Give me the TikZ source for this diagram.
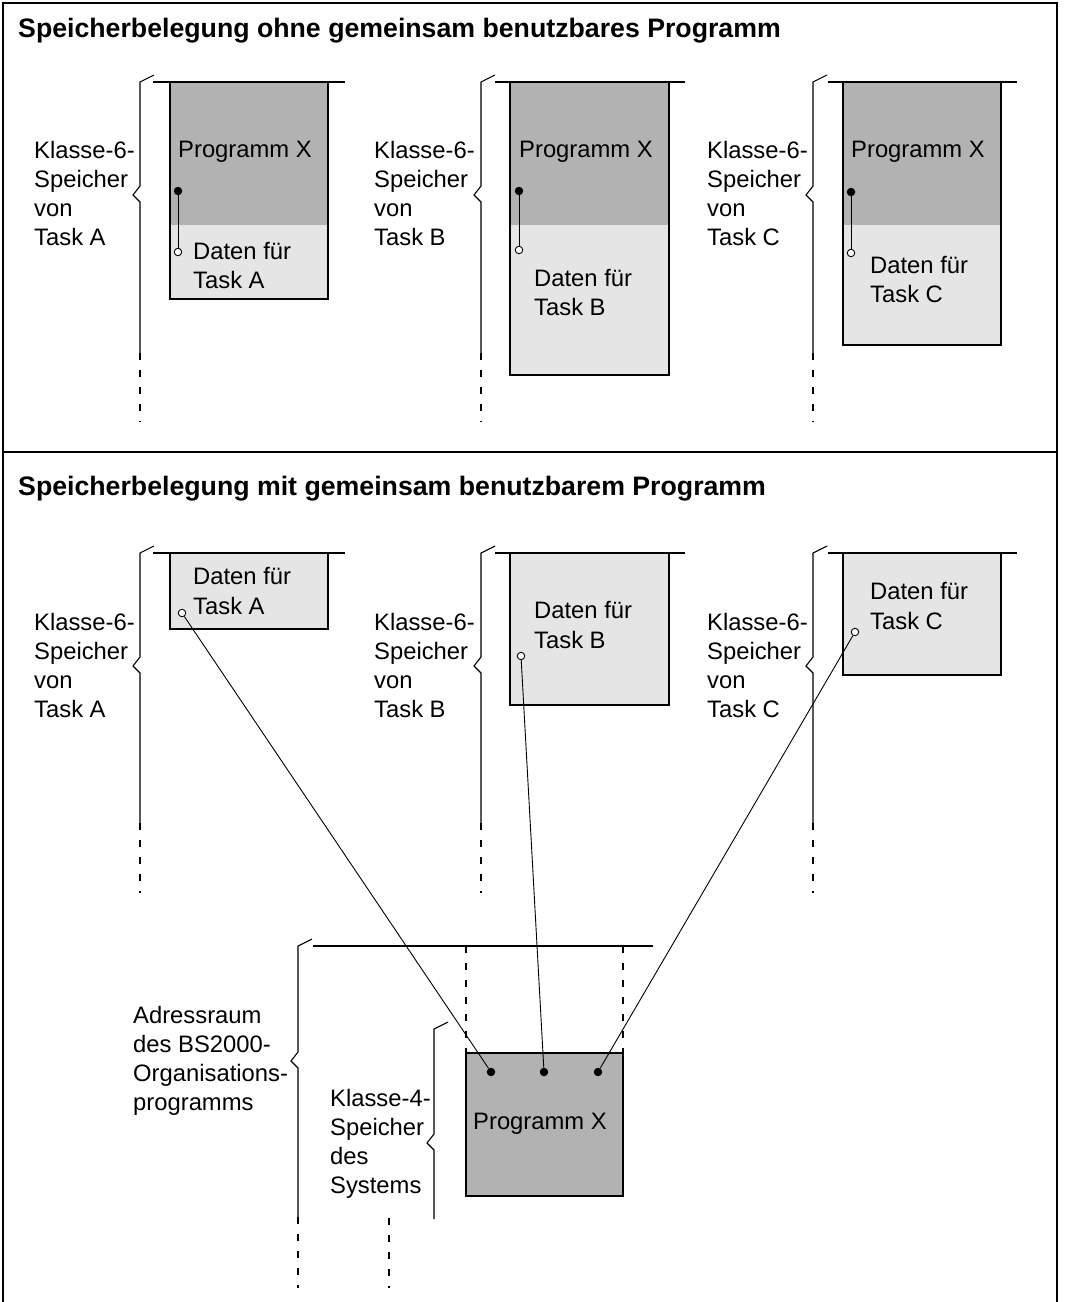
\documentclass[tikz,border=0pt]{standalone}
\usepackage{fontspec}
\setmainfont{Liberation Sans}
\definecolor{memdark}{gray}{0.70}
\definecolor{memlight}{gray}{0.90}

% memory brace: x, top, notch, end of solid part, end of dashed part
\newcommand\membrace[5]{%
  \draw[brace] (#1+14,#2-7) -- (#1,#2) -- (#1,#3-9) -- (#1-7,#3) -- (#1,#3+7) -- (#1,#4);
  \draw[dashcont] (#1,#4) -- (#1,#5);}

\begin{document}
\begin{tikzpicture}[x=1pt,y=-1pt,
  frame/.style={line width=1.2pt},
  edge/.style={line width=1.3pt},
  brace/.style={line width=1.1pt},
  dashcont/.style={line width=1.1pt, dash pattern=on 7pt off 10pt},
  link/.style={line width=0.9pt},
  lbl/.style={anchor=base west, inner sep=0pt, font=\fontsize{23.8}{29}\selectfont},
  ttl/.style={anchor=base west, inner sep=0pt, font=\bfseries\fontsize{26.7}{32}\selectfont},
  blackdot/.style={circle, fill=black, inner sep=0pt, minimum size=8.5pt},
  opendot/.style={circle, draw=black, fill=white, line width=0.9pt, inner sep=0pt, minimum size=7.5pt}]

\useasboundingbox (0,0) rectangle (1066,1302);

% outer frame and separator
\draw[frame] (3,1302) -- (3,3) -- (1057,3) -- (1057,1302);
\draw[frame] (3,452) -- (1057,452);

\node[ttl] (t1) at (18,37) {Speicherbelegung ohne gemeinsam benutzbares Programm};
\node[ttl] (t2) at (18,495) {Speicherbelegung mit gemeinsam benutzbarem Programm};

% ---------- upper part: every task has its own copy ----------
\foreach \x/\t in {34/A, 374/B, 707/C}{
  \foreach \s [count=\i] in {Klasse-6-, Speicher, von, Task \t}
    \node[lbl] (u\t\i) at (\x,158+29*\i-29) {\s};
}
\membrace{140}{82}{195}{353}{422}
\membrace{481}{82}{195}{353}{422}
\membrace{813}{82}{195}{353}{422}

% task A
\fill[memdark] (170,82) rectangle (328,225);
\fill[memlight] (170,225) rectangle (328,299);
\draw[edge] (153,82) -- (345,82);
\draw[edge] (170,82) -- (170,299) -- (328,299) -- (328,82);
% task B
\fill[memdark] (510,82) rectangle (669,225);
\fill[memlight] (510,225) rectangle (669,375);
\draw[edge] (495,82) -- (685,82);
\draw[edge] (510,82) -- (510,375) -- (669,375) -- (669,82);
% task C
\fill[memdark] (843,82) rectangle (1001,225);
\fill[memlight] (843,225) rectangle (1001,345);
\draw[edge] (828,82) -- (1017,82);
\draw[edge] (843,82) -- (843,345) -- (1001,345) -- (1001,82);

\node[lbl] (pxA) at (178,157) {Programm X};
\node[lbl] (pxB) at (519,157) {Programm X};
\node[lbl] (pxC) at (851,157) {Programm X};

\node[lbl] (dA1) at (193,259) {Daten für};
\node[lbl] (dA2) at (193,288) {Task A};
\node[lbl] (dB1) at (534,286) {Daten für};
\node[lbl] (dB2) at (534,315) {Task B};
\node[lbl] (dC1) at (870,273) {Daten für};
\node[lbl] (dC2) at (870,302) {Task C};

\node[blackdot] (ppA) at (178,191) {};
\node[opendot]  (poA) at (178,252) {};
\node[blackdot] (ppB) at (519,191) {};
\node[opendot]  (poB) at (519,250) {};
\node[blackdot] (ppC) at (851,192) {};
\node[opendot]  (poC) at (851,253) {};
\draw[link] (ppA) -- (poA);
\draw[link] (ppB) -- (poB);
\draw[link] (ppC) -- (poC);

% ---------- lower part: one shared copy in class-4 memory ----------
\foreach \x/\t in {34/A, 374/B, 707/C}{
  \foreach \s [count=\i] in {Klasse-6-, Speicher, von, Task \t}
    \node[lbl] (l\t\i) at (\x,630+29*\i-29) {\s};
}
\membrace{140}{553}{666}{823}{893}
\membrace{481}{553}{666}{823}{893}
\membrace{813}{553}{666}{823}{893}

\fill[memlight] (170,553) rectangle (328,629);
\draw[edge] (153,553) -- (345,553);
\draw[edge] (170,553) -- (170,629) -- (328,629) -- (328,553);
\fill[memlight] (510,553) rectangle (669,705);
\draw[edge] (495,553) -- (685,553);
\draw[edge] (510,553) -- (510,705) -- (669,705) -- (669,553);
\fill[memlight] (843,553) rectangle (1001,675);
\draw[edge] (828,553) -- (1017,553);
\draw[edge] (843,553) -- (843,675) -- (1001,675) -- (1001,553);

\node[lbl] (sA1) at (193,584) {Daten für};
\node[lbl] (sA2) at (193,614) {Task A};
\node[lbl] (sB1) at (534,618) {Daten für};
\node[lbl] (sB2) at (534,648) {Task B};
\node[lbl] (sC1) at (870,599) {Daten für};
\node[lbl] (sC2) at (870,629) {Task C};

% system address space
\membrace{298}{946}{1061}{1217}{1288}
\draw[edge] (313,946) -- (653,946);
\draw[dashcont] (466,946) -- (466,1053);
\draw[dashcont] (623,946) -- (623,1053);

\draw[brace] (448,1022) -- (434,1029) -- (434,1134) -- (427,1143) -- (434,1150) -- (434,1219);
\draw[dashcont] (389,1218) -- (389,1288);

\fill[memdark] (466,1053) rectangle (623,1196);
\draw[edge] (466,1053) rectangle (623,1196);
\node[lbl] (pxS) at (473,1129) {Programm X};

\foreach \s [count=\i] in {Adressraum, des BS2000-, Organisations-, programms}
  \node[lbl] (as\i) at (133,1023+29*\i-29) {\s};
\foreach \s [count=\i] in {Klasse-4-, Speicher, des, Systems}
  \node[lbl] (ks\i) at (330,1106+29*\i-29) {\s};

\node[opendot]  (oA) at (182,613) {};
\node[opendot]  (oB) at (521,656) {};
\node[opendot]  (oC) at (855,632) {};
\node[blackdot] (qA) at (491,1072) {};
\node[blackdot] (qB) at (544,1072) {};
\node[blackdot] (qC) at (598,1072) {};
\draw[link] (oA) -- (qA);
\draw[link] (oB) -- (qB);
\draw[link] (oC) -- (qC);
\end{tikzpicture}
\end{document}
